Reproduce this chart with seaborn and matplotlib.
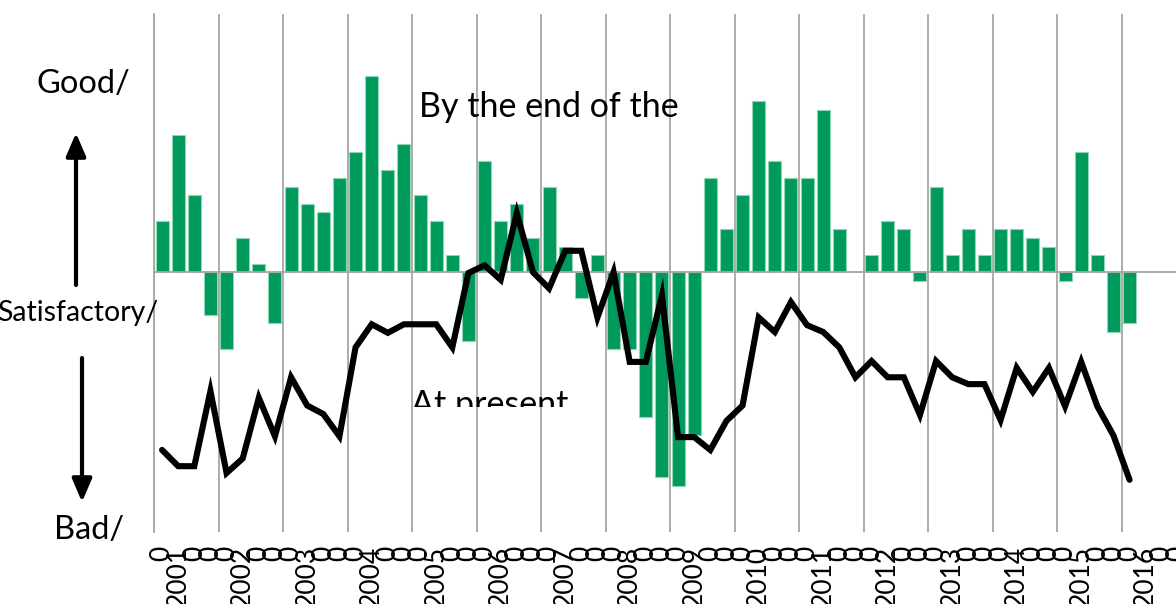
import numpy as np
import pandas as pd
import matplotlib
matplotlib.use("Agg")
import matplotlib.pyplot as plt
from matplotlib.transforms import Bbox
import seaborn as sns

# quarterly balances, 2001 Q1 .. 2016 Q1
by_end_of_year = [6, 16, 9, -5, -9, 4, 1, -6,
                  10, 8, 7, 11, 14, 23, 12, 15,
                  9, 6, 2, -8, 13, 6, 8, 4,
                  10, 3, -3, 2, -9, -9, -17, -24,
                  -25, -19, 11, 5, 9, 20, 13, 11,
                  11, 19, 5, 0, 2, 6, 5, -1,
                  10, 2, 5, 2, 5, 5, 4, 3,
                  -1, 14, 2, -7, -6]
at_present = [-20.8, -22.7, -22.7, -13.9, -23.5, -21.8, -14.7, -19.2,
              -12.3, -15.6, -16.6, -19.2, -8.8, -6.1, -7.1, -6.1,
              -6.1, -6.1, -8.8, -0.1, 0.8, -0.9, 6.9, 0.0,
              -1.9, 2.5, 2.5, -5.3, 0.0, -10.5, -10.5, -2.7,
              -19.3, -19.3, -20.8, -17.4, -15.6, -5.3, -7.0, -3.5,
              -6.2, -7.0, -8.8, -12.3, -10.4, -12.3, -12.3, -16.7,
              -10.4, -12.3, -13.1, -13.1, -17.3, -11.2, -14.0, -11.2,
              -15.7, -10.5, -15.7, -19.1, -24.3]
years = [2001, 2002, 2003, 2004, 2005, 2006, 2007, 2008,
         2009, 2010, 2011, 2012, 2013, 2014, 2015, 2016]

# year shown on the 2nd quarter of each year, "0" on the others
tick_labels = []
for y in years:
    tick_labels += ["0", str(y), "0", "0"]

df = pd.DataFrame({"q": np.arange(len(by_end_of_year)),
                   "bars": by_end_of_year,
                   "line": at_present})

sns.set_style("white")
plt.rcParams["font.family"] = ["Lato", "DejaVu Sans"]
plt.rcParams["text.color"] = "black"
plt.rcParams["xtick.color"] = "black"

W, H = 1176, 604
fig = plt.figure(figsize=(W / 100, H / 100), dpi=100)
ax = fig.add_axes([154 / W, 72 / H, 1032 / W, 518 / H])


def px(x, y):
    return x / W, 1 - y / H


sns.barplot(data=df, x="q", y="bars", color="#009a5d", saturation=1,
            width=0.8, edgecolor="#8fd6b4", linewidth=0.8,
            errorbar=None, ax=ax, zorder=2)
ax.axhline(0, color="#a6a6a6", lw=1.3, zorder=3)
sns.lineplot(data=df, x="q", y="line", color="black", lw=4.4,
             ax=ax, zorder=4, solid_joinstyle="miter")

ax.set_xlim(-0.5, 63.5)
ax.set_ylim(-30.4, 30.2)
ax.set_xticks(np.arange(len(tick_labels)))
ax.set_xticklabels(tick_labels, rotation=90, fontsize=19)
ax.set_xticks(np.arange(-0.5, 64, 4), minor=True)
ax.grid(which="minor", axis="x", color="#a6a6a6", lw=1.3)
ax.tick_params(axis="x", which="both", length=0, pad=10)
ax.set_yticks([])
ax.set_xlabel("")
ax.set_ylabel("")
for s in ["top", "right", "bottom"]:
    ax.spines[s].set_visible(False)
ax.spines["left"].set_color("#a6a6a6")
ax.spines["left"].set_linewidth(1.3)

# left scale
fig.text(*px(83, 93), "Good/", fontsize=23.5, ha="center", va="baseline")
fig.text(*px(158, 321), "Satisfactory/", fontsize=20.5, ha="right", va="baseline")
fig.text(*px(89, 539), "Bad/", fontsize=23.5, ha="center", va="baseline")
arrow = dict(arrowstyle="-|>,head_length=0.7,head_width=0.3", lw=3,
             color="black", mutation_scale=20, shrinkA=0, shrinkB=0)
ax.annotate("", xy=(76, H - 133), xytext=(76, H - 285),
            xycoords="figure pixels", textcoords="figure pixels",
            arrowprops=arrow, annotation_clip=False)
ax.annotate("", xy=(82, H - 502), xytext=(82, H - 358),
            xycoords="figure pixels", textcoords="figure pixels",
            arrowprops=arrow, annotation_clip=False)

# series captions
fig.text(*px(419, 117), "By the end of the", fontsize=24.5, ha="left", va="baseline")
t = fig.text(*px(411, 415), "At present", fontsize=24.5, ha="left", va="baseline")
t.set_clip_box(Bbox.from_extents(0, H - 407, W, H))
t.set_clip_on(True)

fig.savefig("out.png", dpi=100)
